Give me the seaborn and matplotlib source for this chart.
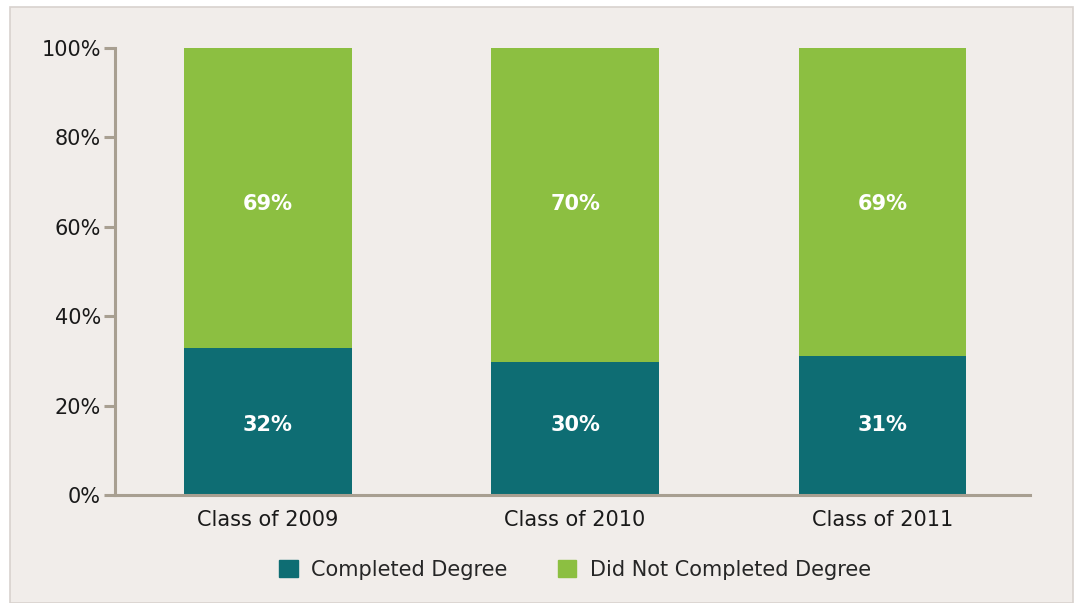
import matplotlib
matplotlib.use("Agg")
import matplotlib.pyplot as plt
import matplotlib.patches as mpatches
import seaborn as sns
import pandas as pd

# data
classes = ["Class of 2009", "Class of 2010", "Class of 2011"]
completed_share = [32.9, 29.8, 31.1]
total_share = [100, 100, 100]
completed_labels = ["32%", "30%", "31%"]
not_completed_labels = ["69%", "70%", "69%"]

teal = "#0e6d73"
green = "#8cbf41"
bg = "#f1edea"
spine_col = "#a89f91"

sns.set_theme(style="white")
plt.rcParams["font.family"] = ["DejaVu Sans"]

df = pd.DataFrame({"cls": classes, "total": total_share, "done": completed_share})

fig = plt.figure(figsize=(10.74, 6.03), dpi=100, facecolor="white")
# panel behind the chart
fig.patches.append(mpatches.Rectangle((10 / 1074, 0), 1063 / 1074, 596 / 603,
                                      transform=fig.transFigure, facecolor=bg,
                                      edgecolor="#d8d2ce", linewidth=1.2, zorder=-10))
ax = fig.add_axes([115 / 1074, 1 - 495 / 603, (1030 - 115) / 1074, (495 - 48) / 603])
ax.set_facecolor(bg)

sns.barplot(data=df, x="cls", y="total", color=green, width=0.545, ax=ax,
            saturation=1, linewidth=0)
sns.barplot(data=df, x="cls", y="done", color=teal, width=0.545, ax=ax,
            saturation=1, linewidth=0)

# labels sit at the same height on every bar
for i in range(len(classes)):
    ax.text(i, 15.7, completed_labels[i], ha="center", va="center",
            color="white", fontsize=15, fontweight="bold")
    ax.text(i, 65, not_completed_labels[i], ha="center", va="center",
            color="white", fontsize=15, fontweight="bold")

ax.set_xlim(-0.497, 2.48)
ax.set_ylim(0, 100)
ax.set_yticks([0, 20, 40, 60, 80, 100])
ax.set_yticklabels(["0%", "20%", "40%", "60%", "80%", "100%"])
ax.set_xlabel("")
ax.set_ylabel("")
ax.tick_params(axis="y", left=True, length=8, width=2.2, color=spine_col, labelsize=15,
               labelcolor="#1a1a1a", pad=2)
ax.tick_params(axis="x", bottom=False, length=0, labelsize=15, labelcolor="#1a1a1a", pad=11)
for s in ["top", "right"]:
    ax.spines[s].set_visible(False)
for s in ["left", "bottom"]:
    ax.spines[s].set_color(spine_col)
    ax.spines[s].set_linewidth(2.2)

handles = [mpatches.Patch(color=teal, label="Completed Degree"),
           mpatches.Patch(color=green, label="Did Not Completed Degree")]
fig.legend(handles=handles, loc="center", bbox_to_anchor=(575 / 1074, 1 - 570 / 603), ncol=2,
           frameon=False, fontsize=15, handlelength=0.9, handleheight=0.9,
           handletextpad=0.65, columnspacing=2.4)

fig.savefig("out.png", dpi=100, facecolor="white")
